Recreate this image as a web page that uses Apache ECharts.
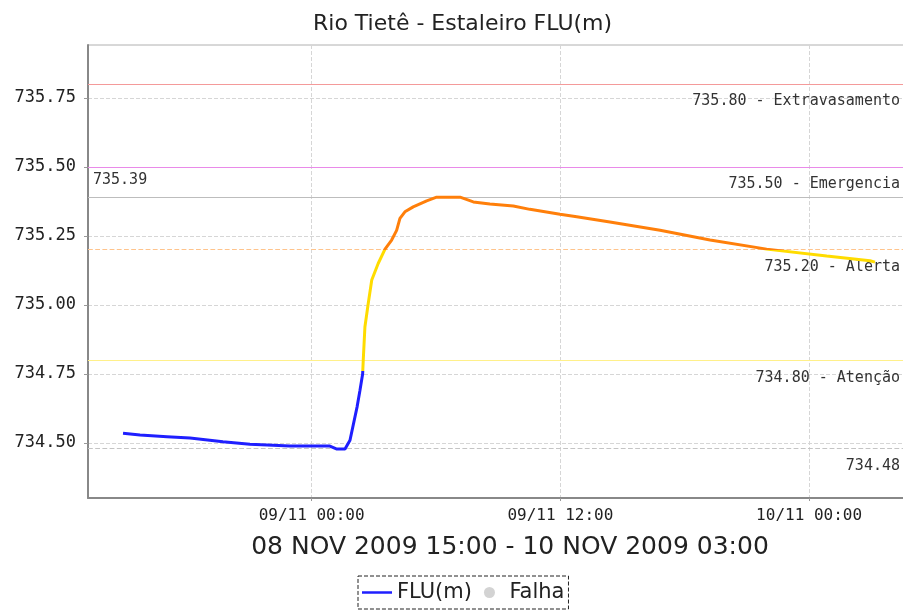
<!DOCTYPE html>
<html>
<head>
<meta charset="utf-8">
<script src="https://cdn.jsdelivr.net/npm/echarts@6/dist/echarts.min.js"></script>
<style>html,body{margin:0;padding:0;background:#fff;overflow:hidden;}#c{width:903px;height:616px;}</style>
</head>
<body>
<div id="c"></div>
<script>
// Hours relative to 09/11/2009 00:00
var hours = [-9.10,-8.28,-6.98,-5.87,-4.28,-2.98,-1.87,-1.05,0.88,1.22,1.61,1.85,2.19,2.33,2.46,2.49,2.57,2.73,2.90,3.21,3.54,3.86,4.10,4.26,4.50,4.90,5.55,6.03,7.16,7.80,8.60,9.73,10.53,11.98,12.79,14.39,16.81,19.22,21.95,24.85,26.94,27.18];
var levels = [734.535,734.529,734.523,734.518,734.505,734.496,734.492,734.489,734.489,734.478,734.478,734.510,734.630,734.690,734.750,734.800,734.920,735.005,735.090,735.150,735.202,735.235,735.270,735.313,735.337,735.355,735.377,735.390,735.390,735.373,735.365,735.358,735.346,735.328,735.319,735.300,735.270,735.235,735.202,735.177,735.160,735.155];
var xTickValues = [0, 12, 24];
var xTickLabels = ['09/11 00:00', '09/11 12:00', '10/11 00:00'];
var yTickValues = [734.50, 734.75, 735.00, 735.25, 735.50, 735.75];
var refValues = [735.80, 735.50, 735.39, 735.20, 734.80, 734.48];
var refLabels = ['735.80 - Extravasamento', '735.50 - Emergencia', '735.39', '735.20 - Alerta', '734.80 - Atenção', '734.48'];
var xRangeLabel = '08 NOV 2009 15:00 - 10 NOV 2009 03:00';

var refStyles = [
  {color:'#f49a9a', type:'solid', pos:'insideEndBottom', dist:[9, 10]},
  {color:'#e98ae9', type:'solid', pos:'insideEndBottom', dist:[9, 10]},
  {color:'#bdbdbd', type:'solid', pos:'insideStartTop', dist:[5, 10]},
  {color:'#ffc48c', type:'dashed', pos:'insideEndBottom', dist:[9, 10]},
  {color:'#fff08a', type:'solid', pos:'insideEndBottom', dist:[9, 10]},
  {color:'#c4c4c4', type:'dashed', pos:'insideEndBottom', dist:[9, 10]}
];
var mono = 'DejaVu Sans Mono';
var markData = refValues.map(function(v, i){
  var s = refStyles[i];
  return {
    yAxis: v,
    lineStyle: {color: s.color, type: s.type, width: 1.2},
    label: {show:true, position: s.pos, formatter: refLabels[i], color:'#333',
            fontFamily: mono, fontSize: 15, distance: s.dist}
  };
});

var data = hours.map(function(h, i){ return [h, levels[i]]; });
var chart = echarts.init(document.getElementById('c'), null, {renderer:'canvas'});
chart.setOption({
  animation: false,
  backgroundColor: '#fff',
  title: {
    text: 'Rio Tietê - Estaleiro FLU(m)', left: 308, top: 8,
    textStyle: {fontFamily: 'DejaVu Sans', fontWeight: 'normal', fontSize: 22, color: '#222'}
  },
  grid: {left: 88, width: 821, top: 45, bottom: 118, show: true, borderColor: '#b0b0b0', borderWidth: 1,
         containLabel: false, outerBoundsMode: 'none'},
  xAxis: {
    type: 'value', min: -10.79, max: 28.82,
    name: xRangeLabel, nameLocation: 'middle', nameGap: 37,
    nameTextStyle: {fontFamily: 'DejaVu Sans', fontSize: 25, color: '#222', padding: [0,0,0,23]},
    axisLine: {show: true, onZero: false, lineStyle: {color: '#888', width: 2}},
    axisTick: {show: true, length: 3, lineStyle: {color: '#999'}, customValues: xTickValues},
    axisLabel: {customValues: xTickValues, margin: 10, color: '#222', fontFamily: mono, fontSize: 16,
      formatter: function(v){ var i = xTickValues.indexOf(v); return i >= 0 ? xTickLabels[i] : ''; }},
    splitLine: {show: true, lineStyle: {color: '#d6d6d6', type: 'dashed'}}
  },
  yAxis: {
    type: 'value', min: 734.301, max: 735.941,
    axisLine: {show: true, onZero: false, lineStyle: {color: '#888', width: 2}},
    axisTick: {show: true, length: 4, lineStyle: {color: '#999'}, customValues: yTickValues},
    axisLabel: {customValues: yTickValues, margin: 12, color: '#222', fontFamily: mono, fontSize: 17,
      formatter: function(v){ return v.toFixed(2); }},
    splitLine: {show: true, lineStyle: {color: '#d6d6d6', type: 'dashed'}}
  },
  visualMap: {
    type: 'piecewise', show: false, dimension: 1, seriesIndex: 0,
    pieces: [
      {lt: 734.76, color: '#1f1fff'},
      {gte: 734.76, lt: 735.2, color: '#ffdc00'},
      {gte: 735.2, color: '#ff7f0a'}
    ]
  },
  legend: {
    left: 358, top: 576, padding: [6, 4, 6, 4], itemGap: 12,
    itemWidth: 30, itemHeight: 11,
    borderColor: '#222', borderWidth: 1, borderType: 'dashed',
    textStyle: {fontFamily: 'DejaVu Sans', fontSize: 21, color: '#222'},
    data: [
      {name: 'FLU(m)', icon: 'path://M0,0 L30,0 L30,2.5 L0,2.5 Z', itemStyle: {color: '#1f1fff'}},
      {name: 'Falha', icon: 'circle', itemStyle: {color: '#c8c8c8'}}
    ]
  },
  series: [
    {
      name: 'FLU(m)', type: 'line', data: data, showSymbol: false, symbol: 'none',
      lineStyle: {width: 3}, z: 5,
      markLine: {silent: true, symbol: 'none', data: markData, z: 3}
    },
    {
      name: 'Falha', type: 'scatter', data: [], itemStyle: {color: '#c8c8c8'}
    }
  ]
});
</script>
</body>
</html>
